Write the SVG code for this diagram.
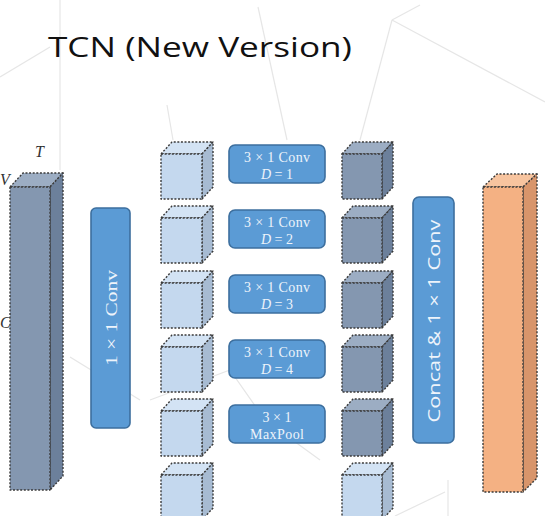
<svg xmlns="http://www.w3.org/2000/svg" xmlns:xlink="http://www.w3.org/1999/xlink" width="545" height="516" viewBox="0 0 545 516">
<style>
  .bg { stroke: #e6e6e6; stroke-width: 1.2; fill: none; }
  .dot { stroke: #3a3a3a; stroke-width: 1.4; stroke-dasharray: 2 1.6; stroke-linejoin: round; }
  .op { fill: #5b9bd5; stroke: #3d6f9e; stroke-width: 1.6; }
  .opt { fill: #eef4fb; font-family: "Liberation Serif", "DejaVu Serif", serif; font-size: 14px; text-anchor: middle; }
  .opv { fill: #eef4fb; font-family: "Liberation Serif", "DejaVu Serif", serif; font-size: 17px; text-anchor: middle; }
  .ops { fill: #eef4fb; font-family: "Open Sans", "Noto Sans", sans-serif; font-size: 17px; text-anchor: middle; }
  .lbl { fill: #333; font-family: "Liberation Serif", "DejaVu Serif", serif; font-style: italic; font-size: 16px; }
  .lf { fill: #c4d8ee; } .lt { fill: #d3e3f4; } .ls { fill: #a7bbd2; }
  .df { fill: #8497b0; } .dt { fill: #9cadc3; } .ds { fill: #6c809b; }
  .of { fill: #f4b183; } .ot { fill: #f7c49f; } .os { fill: #d8956b; }
</style>
<defs>
  <g id="cubeL">
    <polygon class="lt dot" points="0,0 11,-12 52,-12 41,0"/>
    <polygon class="ls dot" points="41,0 52,-12 52,33 41,45"/>
    <rect class="lf dot" x="0" y="0" width="41" height="45"/>
  </g>
  <g id="cubeD">
    <polygon class="dt dot" points="0,0 11,-12 51,-12 40,0"/>
    <polygon class="ds dot" points="40,0 51,-12 51,33 40,45"/>
    <rect class="df dot" x="0" y="0" width="40" height="45"/>
  </g>
  <g id="cubeDL">
    <polygon class="lt dot" points="0,0 11,-12 51,-12 40,0"/>
    <polygon class="ls dot" points="40,0 51,-12 51,33 40,45"/>
    <rect class="lf dot" x="0" y="0" width="40" height="45"/>
  </g>
</defs>
<rect width="545" height="516" fill="#ffffff"/>
<g id="background">
  <path class="bg" d="M60,0 L60,170"/>
  <path class="bg" d="M0,77 L50,47"/>
  <path class="bg" d="M258,7 L287,140"/>
  <path class="bg" d="M392,20 L360,140"/>
  <path class="bg" d="M392,20 L545,102"/>
  <path class="bg" d="M392,20 L420,5"/>
  <path class="bg" d="M167,105 L173,140"/>
  <path class="bg" d="M70,357 L140,400"/>
  <path class="bg" d="M150,400 L230,370 L265,420 L320,460"/>
  <path class="bg" d="M448,480 L448,516"/>
  <path class="bg" d="M395,516 L445,492"/>
</g>
<text x="48" y="57" font-family="'Open Sans', 'Noto Sans', sans-serif" font-size="28" fill="#111" textLength="304" lengthAdjust="spacingAndGlyphs">TCN (New Version)</text>
<g id="labels">
  <text class="lbl" x="35" y="157">T</text>
  <text class="lbl" x="0" y="185" font-size="12">V</text>
  <text class="lbl" x="0" y="328" font-size="9">C</text>
</g>
<g id="input">
  <polygon class="dt dot" points="10,187 23,173 63,173 50,187"/>
  <polygon class="ds dot" points="50,187 63,173 63,476 50,490"/>
  <rect class="df dot" x="10" y="187" width="40" height="303"/>
</g>
<g id="conv1x1">
  <rect class="op" x="91" y="208" width="39" height="220" rx="5"/>
  <text class="opv" transform="translate(116.5,318) rotate(-90)" textLength="96" lengthAdjust="spacingAndGlyphs">1 × 1 Conv</text>
</g>
<g id="cubes-in">
  <use xlink:href="#cubeL" x="161" y="154"/>
  <use xlink:href="#cubeL" x="161" y="218"/>
  <use xlink:href="#cubeL" x="161" y="283"/>
  <use xlink:href="#cubeL" x="161" y="347"/>
  <use xlink:href="#cubeL" x="161" y="411"/>
  <use xlink:href="#cubeL" x="161" y="475"/>
</g>
<g id="op1">
  <rect class="op" x="229" y="145" width="96" height="38" rx="6"/>
  <text class="opt" x="277" y="162" textLength="66">3 × 1 Conv</text>
  <text class="opt" x="277" y="179"><tspan font-style="italic">D</tspan> = 1</text>
</g>
<g id="op2">
  <rect class="op" x="229" y="210" width="96" height="38" rx="6"/>
  <text class="opt" x="277" y="227" textLength="66">3 × 1 Conv</text>
  <text class="opt" x="277" y="244"><tspan font-style="italic">D</tspan> = 2</text>
</g>
<g id="op3">
  <rect class="op" x="229" y="275" width="96" height="38" rx="6"/>
  <text class="opt" x="277" y="292" textLength="66">3 × 1 Conv</text>
  <text class="opt" x="277" y="309"><tspan font-style="italic">D</tspan> = 3</text>
</g>
<g id="op4">
  <rect class="op" x="229" y="340" width="96" height="38" rx="6"/>
  <text class="opt" x="277" y="357" textLength="66">3 × 1 Conv</text>
  <text class="opt" x="277" y="374"><tspan font-style="italic">D</tspan> = 4</text>
</g>
<g id="op5">
  <rect class="op" x="229" y="405" width="96" height="38" rx="6"/>
  <text class="opt" x="277" y="422">3 × 1</text>
  <text class="opt" x="277" y="439" textLength="54">MaxPool</text>
</g>
<g id="cubes-out">
  <use xlink:href="#cubeD" x="342" y="154"/>
  <use xlink:href="#cubeD" x="342" y="218"/>
  <use xlink:href="#cubeD" x="342" y="283"/>
  <use xlink:href="#cubeD" x="342" y="347"/>
  <use xlink:href="#cubeD" x="342" y="411"/>
  <use xlink:href="#cubeDL" x="342" y="475"/>
</g>
<g id="concat">
  <rect class="op" x="413" y="197" width="41" height="246" rx="6"/>
  <text class="ops" transform="translate(439.5,321) rotate(-90)" textLength="203" lengthAdjust="spacingAndGlyphs">Concat  &amp;  1 × 1 Conv</text>
</g>
<g id="output">
  <polygon class="ot dot" points="483,187 497,174 537,174 523,187"/>
  <polygon class="os dot" points="523,187 537,174 537,478 523,492"/>
  <rect class="of dot" x="483" y="187" width="40" height="305"/>
</g>
<g id="connectors"/>
</svg>
